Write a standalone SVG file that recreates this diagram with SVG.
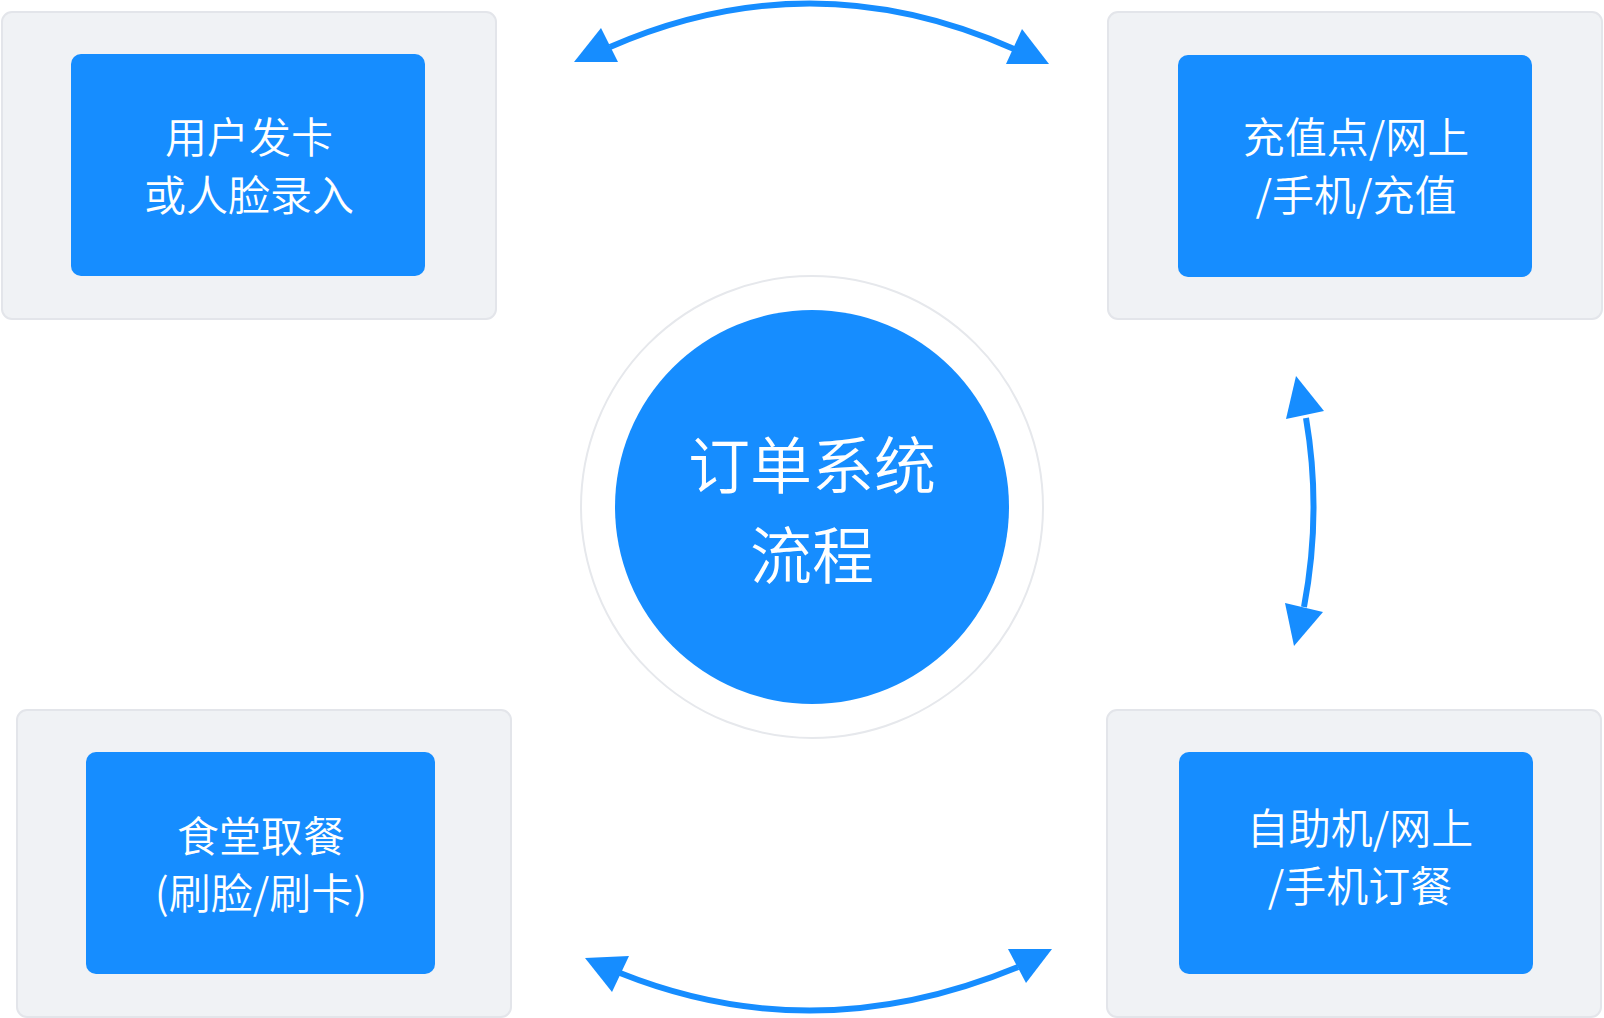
<svg xmlns="http://www.w3.org/2000/svg" width="1604" height="1018" viewBox="0 0 1604 1018">
<style>
.outer{fill:#f0f2f5;stroke:#e3e5ea;stroke-width:2}
.inner{fill:#168dff}
.t{font-family:"Noto Sans CJK SC","Noto Sans",sans-serif;font-weight:350;fill:#ffffff;text-anchor:middle;font-size:42px}
.ct{font-size:62px}
.conn{fill:none;stroke:#168dff;stroke-width:6}
.head{fill:#168dff}
</style>
<rect width="1604" height="1018" fill="#ffffff"/>
<g id="node-card">
<rect class="outer" x="2" y="12" width="494" height="307" rx="10"/>
<rect class="inner" x="71" y="54" width="354" height="222" rx="10"/>
<text class="t" x="249" y="153">用户发卡</text>
<text class="t" x="249" y="211">或人脸录入</text>
</g>
<g id="node-recharge">
<rect class="outer" x="1108" y="12" width="494" height="307" rx="10"/>
<rect class="inner" x="1178" y="55" width="354" height="222" rx="10"/>
<text class="t" x="1356" y="153">充值点/网上</text>
<text class="t" x="1356" y="211">/手机/充值</text>
</g>
<g id="node-canteen">
<rect class="outer" x="17" y="710" width="494" height="307" rx="10"/>
<rect class="inner" x="86" y="752" width="349" height="222" rx="10"/>
<text class="t" x="261" y="852">食堂取餐</text>
<text class="t" x="261" y="909">(刷脸/刷卡)</text>
</g>
<g id="node-order">
<rect class="outer" x="1107" y="710" width="494" height="307" rx="10"/>
<rect class="inner" x="1179" y="752" width="354" height="222" rx="10"/>
<text class="t" x="1360" y="844">自助机/网上</text>
<text class="t" x="1360" y="902">/手机订餐</text>
</g>
<g id="node-center">
<circle cx="812" cy="507" r="231" fill="#ffffff" stroke="#e6e8ec" stroke-width="2"/>
<circle cx="812" cy="507" r="197" fill="#168dff"/>
<text class="t ct" x="812" y="489">订单系统</text>
<text class="t ct" x="812" y="579">流程</text>
</g>
<g id="connectors">
<path class="conn" d="M610,47 Q812,-41 1014,49"/>
<polygon class="head" points="574,62 601,28 618,62"/>
<polygon class="head" points="1006,64 1022,29 1049,64"/>
<path class="conn" d="M1306,418 Q1322,512 1304,607"/>
<polygon class="head" points="1296,376 1286,419 1324,411"/>
<polygon class="head" points="1285,603 1323,612 1294,646"/>
<path class="conn" d="M620,973 Q815,1051 1018,967"/>
<polygon class="head" points="585,958 629,956 612,992"/>
<polygon class="head" points="1008,949 1052,949 1026,983"/>
</g>
</svg>
